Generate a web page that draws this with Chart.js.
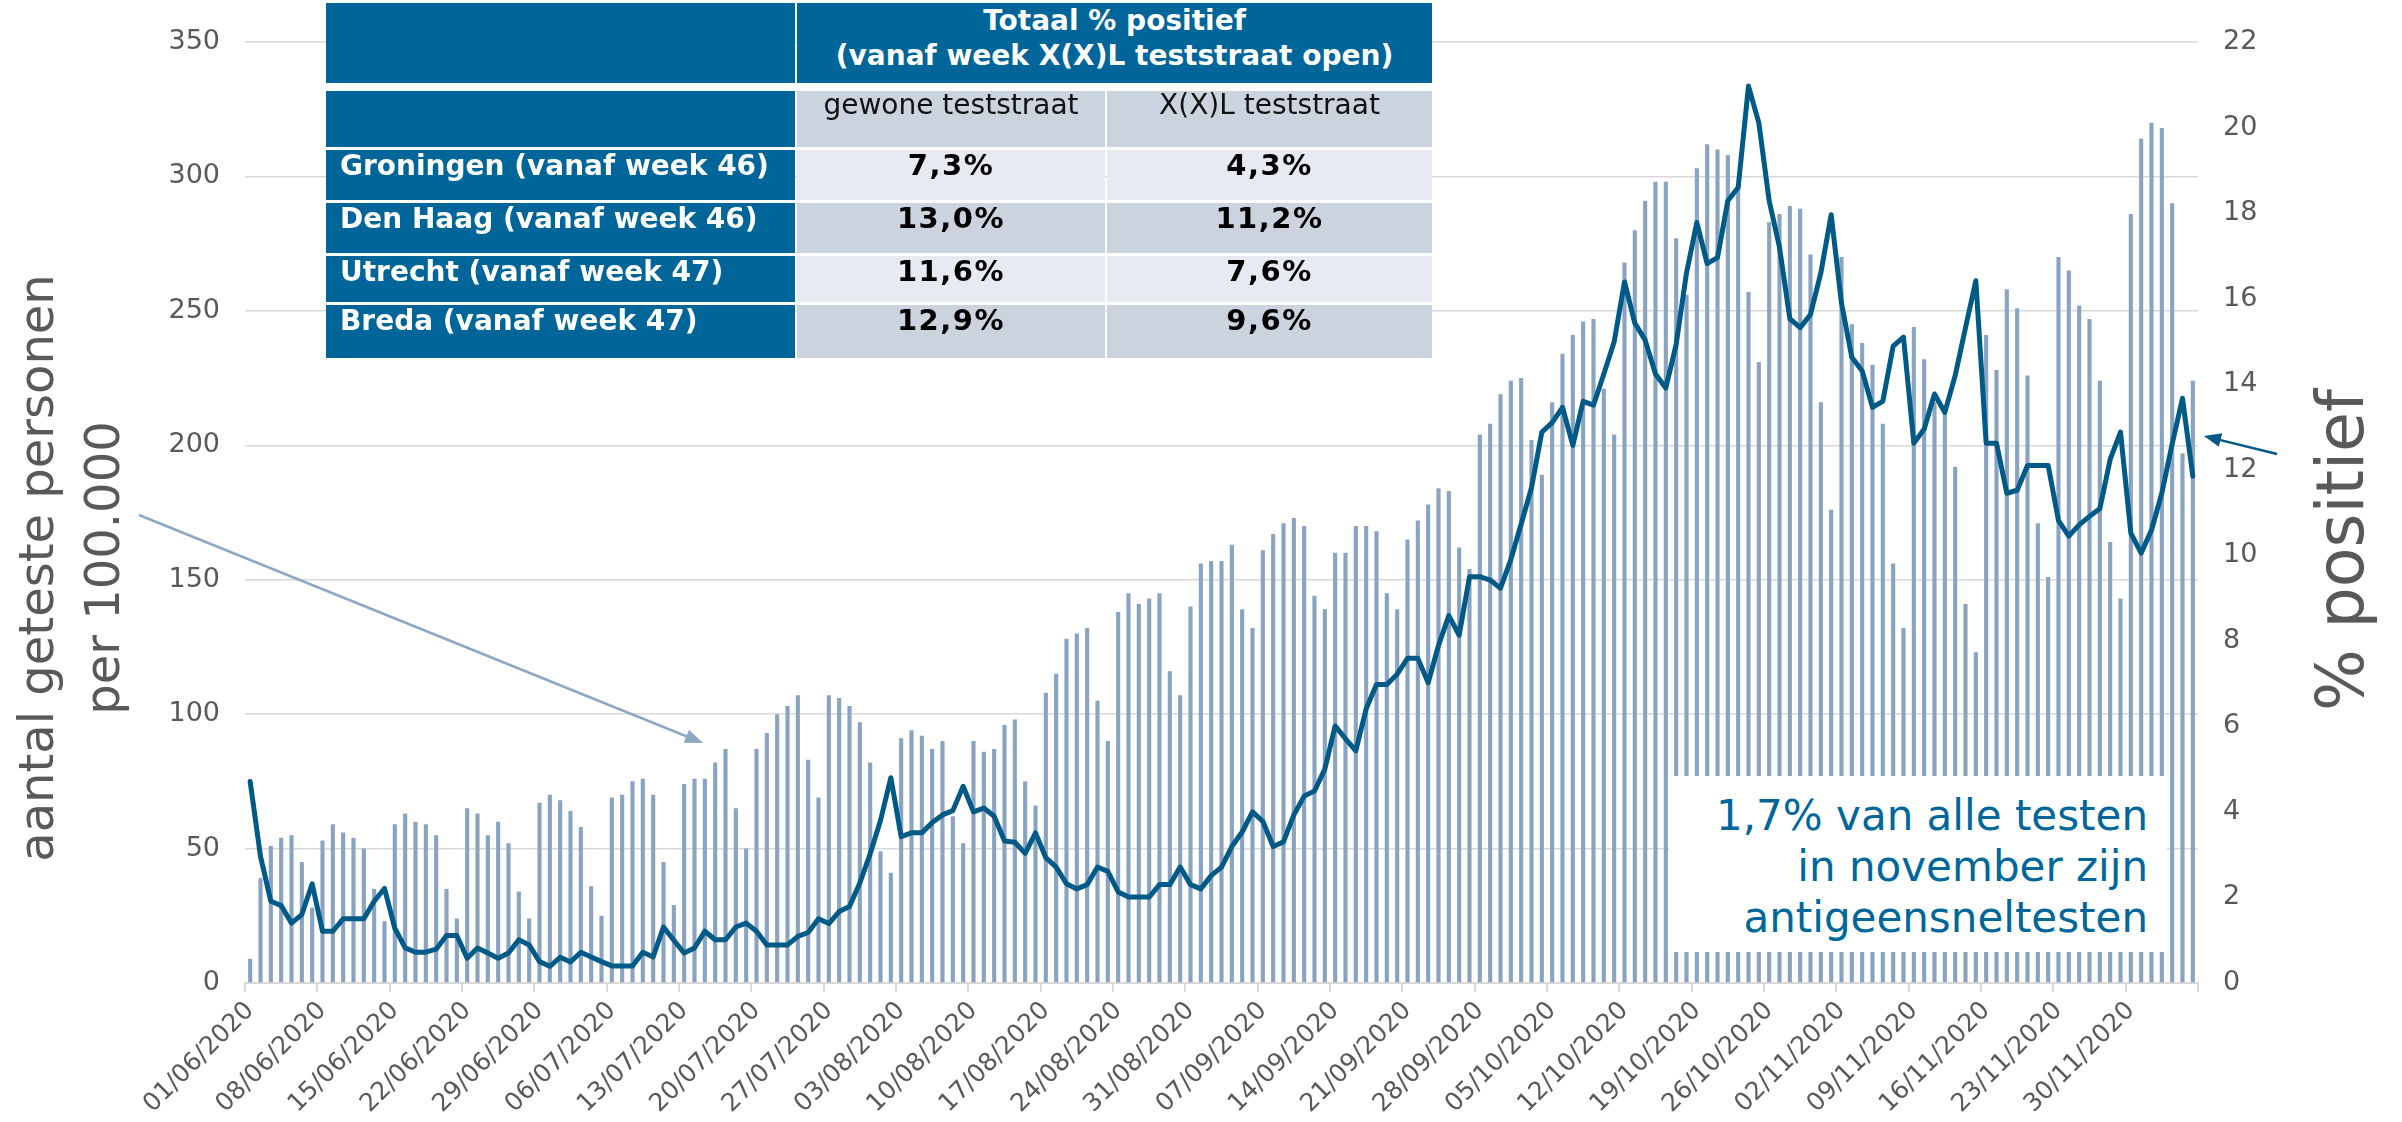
<!DOCTYPE html>
<html><head><meta charset="utf-8">
<script src="https://cdn.jsdelivr.net/npm/chart.js@4/dist/chart.umd.min.js"></script>
<style>
html,body{margin:0;padding:0;background:#fff;}
#wrap{position:relative;width:2402px;height:1122px;overflow:hidden;font-family:"DejaVu Sans",Verdana,sans-serif;}
#c{position:absolute;left:0;top:0;}
.cell{position:absolute;box-sizing:border-box;white-space:nowrap;font-size:28px;line-height:31px;}
.val{letter-spacing:1.5px;font-size:29px;}
.rot{position:absolute;text-align:center;color:#595959;white-space:nowrap;transform:rotate(-90deg);}
#note{position:absolute;background:#fff;color:#00679B;text-align:right;font-size:42px;line-height:51px;box-sizing:border-box;}
</style></head>
<body><div id="wrap"><canvas id="c" width="2402" height="1122"></canvas></div>
<script>
// ---- data ----
const testedPer100k = [9,39,51,54,55,45,28,53,59,56,54,50,35,23,59,63,60,59,55,35,24,65,63,55,60,52,34,24,67,70,
68,64,58,36,25,69,70,75,76,70,45,29,74,76,76,82,87,65,50,87,93,100,103,107,83,69,107,106,103,97,
82,49,41,91,94,92,87,90,62,52,90,86,87,96,98,75,66,108,115,128,130,132,105,90,138,145,141,143,145,116,
107,140,156,157,157,163,139,132,161,167,171,173,170,144,139,160,160,170,170,168,145,139,165,172,178,184,183,162,154,204,
208,219,224,225,202,189,216,234,241,246,247,221,204,268,280,291,298,298,277,256,303,312,310,308,296,257,231,283,286,289,
288,271,216,176,270,245,238,230,208,156,132,244,232,216,215,192,141,123,241,228,258,251,226,171,151,270,265,252,247,224,
164,143,286,314,320,318,290,197,224];
const pctPositive = [4.71,2.96,1.91,1.81,1.40,1.60,2.32,1.21,1.21,1.50,1.50,1.50,1.91,2.21,1.28,0.82,0.72,0.72,0.79,1.11,1.11,0.58,0.82,0.70,0.58,0.70,1.01,0.89,0.50,0.39,
0.60,0.49,0.72,0.61,0.50,0.40,0.40,0.40,0.72,0.61,1.31,1.00,0.70,0.82,1.21,1.01,1.01,1.31,1.40,1.21,0.89,0.89,0.89,1.09,1.18,1.50,1.39,1.67,1.79,2.34,
3.02,3.80,4.80,3.42,3.51,3.51,3.75,3.93,4.03,4.60,4.00,4.09,3.90,3.32,3.29,3.03,3.51,2.93,2.71,2.32,2.20,2.30,2.71,2.61,2.13,2.01,2.01,2.01,2.30,2.30,
2.71,2.30,2.20,2.51,2.71,3.19,3.53,4.00,3.78,3.19,3.30,3.93,4.37,4.49,5.00,6.01,5.71,5.43,6.41,6.98,6.98,7.22,7.59,7.59,7.02,7.89,8.59,8.13,9.50,9.50,
9.42,9.23,9.90,10.73,11.58,12.88,13.10,13.46,12.57,13.60,13.51,14.24,14.99,16.39,15.43,15.03,14.24,13.91,14.93,16.60,17.78,16.82,16.96,18.29,18.60,20.97,20.11,18.29,17.20,15.53,
15.32,15.63,16.60,17.96,15.89,14.63,14.31,13.46,13.60,14.89,15.10,12.62,12.95,13.77,13.34,14.20,15.32,16.42,12.62,12.62,11.45,11.52,12.10,12.10,12.10,10.81,10.45,10.71,10.91,11.09,
12.24,12.88,10.52,10.05,10.59,11.45,12.60,13.67,11.85];
const tickLabels = ['01/06/2020','08/06/2020','15/06/2020','22/06/2020','29/06/2020','06/07/2020','13/07/2020','20/07/2020','27/07/2020',
'03/08/2020','10/08/2020','17/08/2020','24/08/2020','31/08/2020','07/09/2020','14/09/2020','21/09/2020','28/09/2020',
'05/10/2020','12/10/2020','19/10/2020','26/10/2020','02/11/2020','09/11/2020','16/11/2020','23/11/2020','30/11/2020'];
const leftTitle = ['aantal geteste personen','per 100.000'];
const rightTitle = '% positief';
const noteLines = ['1,7% van alle testen','in november zijn','antigeensneltesten'];
const tableHeader = ['Totaal % positief','(vanaf week X(X)L teststraat open)'];
const tableColumns = ['gewone teststraat','X(X)L teststraat'];
const tableRows = ['Groningen (vanaf week 46)','Den Haag (vanaf week 46)','Utrecht (vanaf week 47)','Breda (vanaf week 47)'];
const pctRegular = ['7,3%','13,0%','11,6%','12,9%'];
const pctXXL = ['4,3%','11,2%','7,6%','9,6%'];

// daily categories
const categories = testedPer100k.map((_, i) => {
  const d = new Date(Date.UTC(2020, 5, 1 + i));
  return String(d.getUTCDate()).padStart(2,'0') + '/' + String(d.getUTCMonth()+1).padStart(2,'0') + '/2020';
});

// ---- overlays ----
const wrap = document.getElementById('wrap');
function el(cls, css, html){ const d=document.createElement('div'); d.className=cls; Object.assign(d.style, css); if(html!==undefined) d.innerHTML=html; wrap.appendChild(d); return d; }

const BLUE='#00669A', LIGHT='#E7EAF0', DARK='#CBD3DF';
const colX=[326,797,1107], colW=[469,308,325];
// header
el('cell',{left:colX[0]+'px',top:'3px',width:colW[0]+'px',height:'80px',background:BLUE});
el('cell',{left:colX[1]+'px',top:'3px',width:(colW[1]+colW[2]+2)+'px',height:'80px',background:BLUE,color:'#fff',fontWeight:'bold',textAlign:'center',lineHeight:'35px',paddingTop:'0px'}, tableHeader.join('<br>'));
// column header row
el('cell',{left:colX[0]+'px',top:'91px',width:colW[0]+'px',height:'56px',background:BLUE});
tableColumns.forEach((t,j)=>el('cell',{left:colX[j+1]+'px',top:'91px',width:colW[j+1]+'px',height:'56px',background:DARK,color:'#111',textAlign:'center',paddingTop:'0px',lineHeight:'27px'}, t));
const rowTop=[150,203,256,305], rowH=[50,50,46,53];
tableRows.forEach((r,i)=>{
  const bg = i%2===0 ? LIGHT : DARK;
  el('cell',{left:colX[0]+'px',top:rowTop[i]+'px',width:colW[0]+'px',height:rowH[i]+'px',background:BLUE,color:'#fff',fontWeight:'bold',paddingLeft:'14px'}, r);
  el('cell val',{left:colX[1]+'px',top:rowTop[i]+'px',width:colW[1]+'px',height:rowH[i]+'px',background:bg,color:'#000',fontWeight:'bold',textAlign:'center'}, pctRegular[i]);
  el('cell val',{left:colX[2]+'px',top:rowTop[i]+'px',width:colW[2]+'px',height:rowH[i]+'px',background:bg,color:'#000',fontWeight:'bold',textAlign:'center'}, pctXXL[i]);
});
// axis titles
el('rot',{left:(69-350)+'px',top:(568-66)+'px',width:'700px',height:'132px',fontSize:'48px',lineHeight:'66px'}, leftTitle.join('<br>'));
el('rot',{left:(2341-250)+'px',top:(550-40)+'px',width:'500px',height:'80px',fontSize:'65px',lineHeight:'80px'}, rightTitle);
// note box
const note = document.createElement('div'); note.id='note';
Object.assign(note.style,{left:'1669px',top:'776px',width:'498px',height:'176px',paddingTop:'14px',paddingRight:'19px'});
note.innerHTML = noteLines.join('<br>'); wrap.appendChild(note);

// ---- chart ----
const annotationArrows = [
  {from:[139,515], to:[703,743], color:'#8EA7C5', width:2.5, head:18, half:7},
  {from:[2277,454], to:[2204,436], color:'#005A87', width:2.5, head:17, half:7}
];
const arrowPlugin = {
  id:'arrows',
  afterDraw(chart){
    const ctx = chart.ctx;
    annotationArrows.forEach(a=>{
      const [x1,y1]=a.from, [x2,y2]=a.to;
      const ang=Math.atan2(y2-y1,x2-x1);
      const bx=x2-a.head*Math.cos(ang), by=y2-a.head*Math.sin(ang);
      ctx.save();
      ctx.strokeStyle=a.color; ctx.fillStyle=a.color; ctx.lineWidth=a.width;
      ctx.beginPath(); ctx.moveTo(x1,y1); ctx.lineTo(bx+2*Math.cos(ang),by+2*Math.sin(ang)); ctx.stroke();
      ctx.beginPath(); ctx.moveTo(x2,y2);
      ctx.lineTo(bx+a.half*Math.sin(ang), by-a.half*Math.cos(ang));
      ctx.lineTo(bx-a.half*Math.sin(ang), by+a.half*Math.cos(ang));
      ctx.closePath(); ctx.fill();
      ctx.restore();
    });
  }
};

Chart.defaults.font.family = '"DejaVu Sans", Verdana, sans-serif';
new Chart(document.getElementById('c'), {
  data: {
    labels: categories,
    datasets: [
      {type:'line', label:'% positief', data:pctPositive, yAxisID:'y1', borderColor:'#005A87', borderWidth:5,
       pointRadius:0, tension:0, borderJoinStyle:'round', borderCapStyle:'round', order:1},
      {type:'bar', label:'aantal geteste personen per 100.000', data:testedPer100k, yAxisID:'y',
       backgroundColor:'#8AA3C0', categoryPercentage:1, barPercentage:0.4, order:2}
    ]
  },
  options: {
    responsive:false, animation:false, devicePixelRatio:1,
    layout:{padding:{top:42,left:0,right:0,bottom:0}},
    plugins:{legend:{display:false}, tooltip:{enabled:false}},
    scales:{
      x:{
        type:'category', offset:true,
        grid:{offset:true, drawOnChartArea:false, drawTicks:true, tickLength:9, lineWidth:2,
              color:(c)=> (c.type!=='tick' || c.index%7===0) ? '#D9D9D9' : 'rgba(0,0,0,0)'},
        border:{display:true, color:'#D9D9D9', width:2},
        ticks:{autoSkip:false, minRotation:45, maxRotation:45, padding:4, color:'#595959', font:{size:25},
               callback:(v,i)=> i%7===0 ? tickLabels[i/7] : ''},
        afterFit:(s)=>{ s.height = 139; }
      },
      y:{
        position:'left', min:0, max:350,
        ticks:{stepSize:50, padding:25, color:'#595959', font:{size:27}},
        grid:{color:'#D9D9D9', lineWidth:1.5, drawTicks:false},
        border:{display:false},
        afterFit:(s)=>{ s.width = 245; }
      },
      y1:{
        position:'right', min:0, max:22,
        ticks:{stepSize:2, padding:25, color:'#595959', font:{size:27}},
        grid:{drawOnChartArea:false, drawTicks:false},
        border:{display:false},
        afterFit:(s)=>{ s.width = 204; }
      }
    }
  },
  plugins:[arrowPlugin]
});
</script>
</body></html>
